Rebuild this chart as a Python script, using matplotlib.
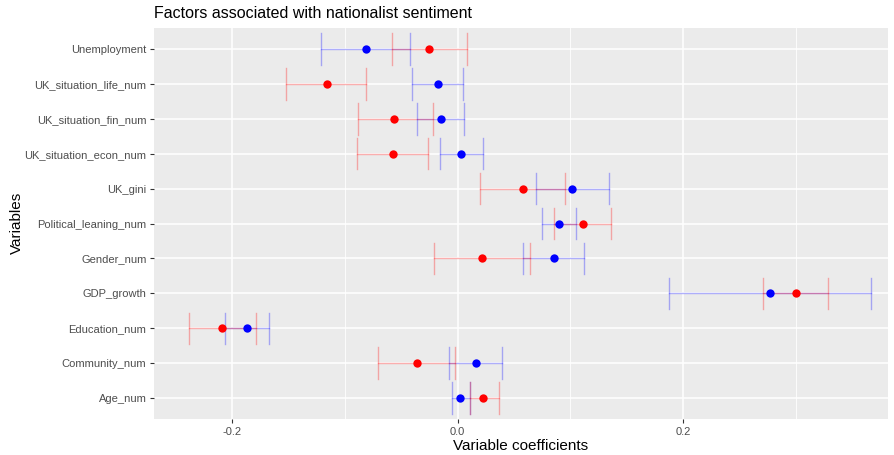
import matplotlib.pyplot as plt
from matplotlib.ticker import MultipleLocator

variables = ["Unemployment", "UK_situation_life_num", "UK_situation_fin_num",
             "UK_situation_econ_num", "UK_gini", "Political_leaning_num",
             "Gender_num", "GDP_growth", "Education_num", "Community_num", "Age_num"]

# blue model
blue_est = [-0.0815, -0.017, -0.015, 0.003, 0.102, 0.090, 0.0856, 0.277, -0.187, 0.016, 0.0025]
blue_lo = [-0.121, -0.040, -0.036, -0.0155, 0.070, 0.075, 0.058, 0.188, -0.206, -0.0075, -0.005]
blue_hi = [-0.042, 0.005, 0.006, 0.023, 0.134, 0.105, 0.1125, 0.367, -0.167, 0.0395, 0.011]

# red model
red_est = [-0.025, -0.116, -0.056, -0.057, 0.058, 0.111, 0.0215, 0.300, -0.209, -0.036, 0.023]
red_lo = [-0.058, -0.152, -0.088, -0.089, 0.020, 0.086, -0.021, 0.271, -0.2385, -0.0705, 0.011]
red_hi = [0.008, -0.081, -0.022, -0.026, 0.095, 0.136, 0.064, 0.329, -0.179, -0.002, 0.0365]

plt.rcParams['font.family'] = ['Liberation Sans', 'DejaVu Sans']

fig = plt.figure(figsize=(8.94, 4.55), dpi=100)
ax = fig.add_axes([0.1723, 0.0791, 0.821, 0.8593])

n = len(variables)
ypos = [n - 1 - i for i in range(n)]

def draw(est, lo, hi, color):
  for y, e, l, h in zip(ypos, est, lo, hi):
    ax.plot([l, h], [y, y], color=color, alpha=0.3, lw=1.0, zorder=3)
    ax.plot([l, l], [y - 0.45, y + 0.45], color=color, alpha=0.3, lw=1.0, zorder=3)
    ax.plot([h, h], [y - 0.45, y + 0.45], color=color, alpha=0.3, lw=1.0, zorder=3)
  ax.plot(est, ypos, 'o', color=color, markersize=6, markeredgewidth=0, zorder=4)

draw(blue_est, blue_lo, blue_hi, 'blue')
draw(red_est, red_lo, red_hi, 'red')

ax.set_facecolor('#EBEBEB')
for s in ax.spines.values():
  s.set_visible(False)
ax.set_xlim(-0.2693, 0.382)
ax.set_ylim(-0.6, n - 0.4)
ax.set_yticks(ypos)
ax.set_yticklabels(variables)
ax.xaxis.set_minor_locator(MultipleLocator(0.1))
ax.set_xticks([-0.2, 0.0, 0.2])
ax.set_xticklabels(['-0.2', '0.0', '0.2'])
ax.grid(which='major', color='white', lw=1.1, zorder=0)
ax.grid(which='minor', axis='x', color='white', lw=0.6, zorder=0)
ax.set_axisbelow(True)
ax.tick_params(which='major', length=3, width=0.8, color='#333333',
               labelcolor='#4D4D4D', labelsize=8, pad=2.5)
ax.tick_params(which='minor', length=0)

ax.set_xlabel('Variable coefficients', fontsize=11, labelpad=2)
fig.text(17 / 894, 0.51, 'Variables', rotation=90, fontsize=11, ha='center', va='center')
ax.set_title('Factors associated with nationalist sentiment', loc='left', fontsize=11.5, pad=7)

fig.savefig('out.png', dpi=100)
